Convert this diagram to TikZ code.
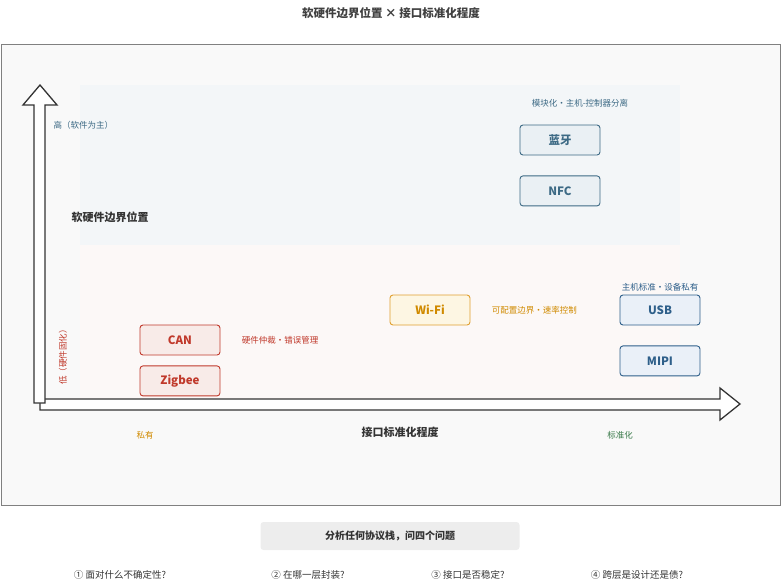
\documentclass[tikz,border=0pt]{standalone}
\usepackage{fontspec}
\setmainfont{Noto Sans CJK SC}
\usetikzlibrary{positioning}
\definecolor{redc}{HTML}{C0392B}
\definecolor{redf}{HTML}{F8EBE8}
\definecolor{orc}{HTML}{E0A030}
\definecolor{ort}{HTML}{D08A00}
\definecolor{orf}{HTML}{FDF6E3}
\definecolor{bgc}{HTML}{3D6A85}
\definecolor{bgf}{HTML}{EAF0F4}
\definecolor{blc}{HTML}{2E5F8A}
\definecolor{blf}{HTML}{EAF0F8}
\definecolor{grc}{HTML}{3A7A4A}
\tikzset{
  tag/.style={draw,rounded corners=3pt,minimum width=80pt,minimum height=30pt,font=\bfseries\fontsize{11.5}{13}\selectfont,line width=0.9pt},
  redtag/.style={tag,draw=redc,fill=redf,text=redc},
  ortag/.style={tag,draw=orc,fill=orf,text=ort},
  bgtag/.style={tag,draw=bgc,fill=bgf,text=bgc},
  bltag/.style={tag,draw=blc,fill=blf,text=blc},
  note/.style={font=\fontsize{8.5}{10}\selectfont},
  axlab/.style={font=\bfseries\fontsize{11}{13}\selectfont,text=black!80}
}
\begin{document}
\begin{tikzpicture}[x=1pt,y=-1pt]
  \useasboundingbox (0,0) rectangle (782,587);
  \node[font=\bfseries\fontsize{11.5}{13}\selectfont,text=black!75] (title) at (391,13) {软硬件边界位置 × 接口标准化程度};
  % frame and zones
  \draw[black!50,fill=black!2.5] (1,44) rectangle (780,505);
  \fill[bgf!60] (80,85) rectangle (680,245);
  \fill[redf!35] (80,245) rectangle (680,400);
  % axes
  \draw[black!80,line width=1.3pt,fill=white,line join=miter]
    (40,399) -- (40,410) -- (720,410) -- (720,420) -- (740,404) -- (720,388) -- (720,399) -- cycle;
  \draw[black!80,line width=1.3pt,fill=white,line join=miter]
    (34,403) -- (45,403) -- (45,105) -- (57,105) -- (40,85) -- (23,105) -- (34,105) -- cycle;
  \node[note,text=bgc,anchor=west] (hi) at (50,125) {高（软件为主）};
  \node[axlab] (ylab) at (110,217) {软硬件边界位置};
  \node[note,text=redc,rotate=90] (lo) at (63,355) {低（硬件固化）};
  \node[note,text=ort] (priv) at (145,435) {私有};
  \node[axlab] (xlab) at (400,432) {接口标准化程度};
  \node[note,text=grc] (std) at (620,435) {标准化};
  % protocols
  \node[redtag] (can) at (180,340) {CAN};
  \node[redtag,below=10pt of can] (zig) {Zigbee};
  \node[note,text=redc,right=18pt of can] (canN) {硬件仲裁·错误管理};
  \node[ortag] (wifi) at (430,310) {Wi-Fi};
  \node[note,text=ort,right=18pt of wifi] (wifiN) {可配置边界·速率控制};
  \node[bgtag] (bt) at (560,140) {蓝牙};
  \node[bgtag,below=20pt of bt] (nfc) {NFC};
  \node[note,text=bgc] (btN) at (580,103) {模块化·主机-控制器分离};
  \node[bltag] (usb) at (660,310) {USB};
  \node[bltag,below=20pt of usb] (mipi) {MIPI};
  \node[note,text=blc] (usbN) at (660,287) {主机标准·设备私有};
  % questions
  \node[fill=black!7,rounded corners=3pt,minimum width=259pt,minimum height=28pt,font=\bfseries\fontsize{10}{12}\selectfont,text=black!80] (q) at (390,536) {分析任何协议栈，问四个问题};
  \foreach \x/\t [count=\i] in {120/{① 面对什么不确定性?},308/{② 在哪一层封装?},468/{③ 接口是否稳定?},637/{④ 跨层是设计还是债?}}
    \node[font=\fontsize{9.5}{11}\selectfont,text=black!80] (q\i) at (\x,575) {\t};
\end{tikzpicture}
\end{document}
